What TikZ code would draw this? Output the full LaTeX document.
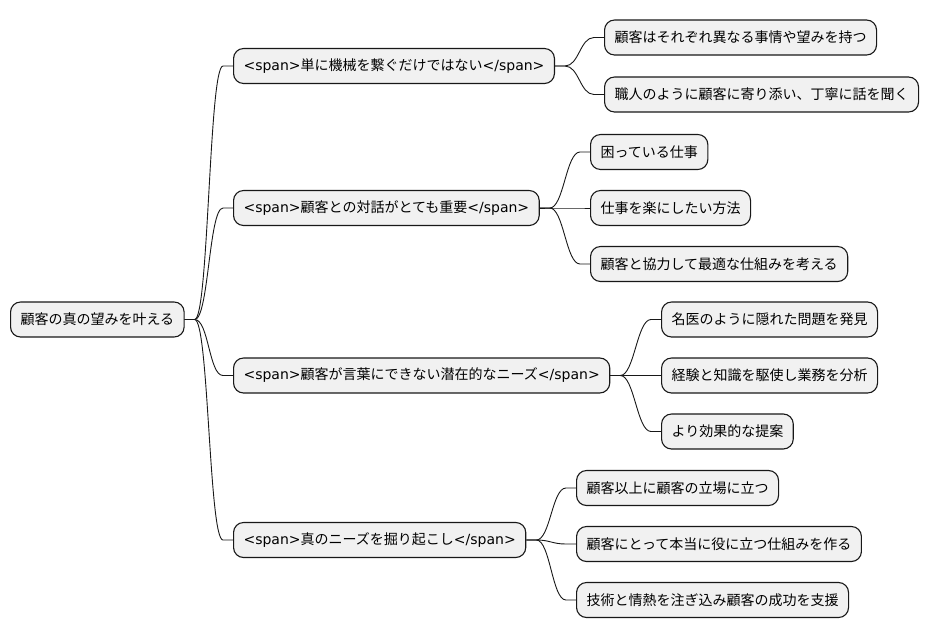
\documentclass[tikz,border=0pt]{standalone}
\usepackage{fontspec}
\setmainfont{Noto Sans CJK JP}
\newfontfamily\latinfont{DejaVu Sans}
\usetikzlibrary{positioning}
\newcommand\spantag[1]{{\latinfont<span>}#1{\latinfont</span>}}
\definecolor{boxfill}{HTML}{F1F1F1}
\definecolor{boxline}{HTML}{181818}
\tikzset{
  topic/.style={draw=boxline, fill=boxfill, rounded corners=10pt, line width=1.1pt,
    minimum height=35pt, inner xsep=10pt, anchor=west,
    font=\fontsize{14}{16}\selectfont},
  branch/.style={to path={-- ++(10pt,0) .. controls +(14pt,0) and +(-14pt,0) .. ([xshift=-10pt]\tikztotarget.west) -- (\tikztotarget.west)}}
}

\begin{document}
\begin{tikzpicture}[x=1pt, y=-1pt]
  \useasboundingbox (0,0) rectangle (929,640);
  % Root
  \node [topic] (root) at (10,319.5) {顧客の真の望みを叶える};

  % First level
  \node [topic] (need1) at (233,66) {\spantag{単に機械を繋ぐだけではない}};
  \node [topic] (need2) at (233,208) {\spantag{顧客との対話がとても重要}};
  \node [topic] (need3) at (233,375.5) {\spantag{顧客が言葉にできない潜在的なニーズ}};
  \node [topic] (need4) at (233,540) {\spantag{真のニーズを掘り起こし}};

  % Second level
  \node [topic] (need1a) at (604,37.5) {顧客はそれぞれ異なる事情や望みを持つ};
  \node [topic] (need1b) at (604,94.5) {職人のように顧客に寄り添い、丁寧に話を聞く};
  \node [topic] (need2a) at (590,152) {困っている仕事};
  \node [topic] (need2b) at (590,208) {仕事を楽にしたい方法};
  \node [topic] (need2c) at (590,264) {顧客と協力して最適な仕組みを考える};
  \node [topic] (need3a) at (661,319.5) {名医のように隠れた問題を発見};
  \node [topic] (need3b) at (661,375.5) {経験と知識を駆使し業務を分析};
  \node [topic] (need3c) at (661,431.5) {より効果的な提案};
  \node [topic] (need4a) at (576,488) {顧客以上に顧客の立場に立つ};
  \node [topic] (need4b) at (576,544) {顧客にとって本当に役に立つ仕組みを作る};
  \node [topic] (need4c) at (576,600) {技術と情熱を注ぎ込み顧客の成功を支援};

  % Branches
  \foreach \kid in {need1,need2,need3,need4}
    \draw [line width=0.9pt, boxline] (root.east) to[branch] (\kid);
  \foreach \kid in {need1a,need1b}
    \draw [line width=0.9pt, boxline] (need1.east) to[branch] (\kid);
  \foreach \kid in {need2a,need2b,need2c}
    \draw [line width=0.9pt, boxline] (need2.east) to[branch] (\kid);
  \foreach \kid in {need3a,need3b,need3c}
    \draw [line width=0.9pt, boxline] (need3.east) to[branch] (\kid);
  \foreach \kid in {need4a,need4b,need4c}
    \draw [line width=0.9pt, boxline] (need4.east) to[branch] (\kid);
\end{tikzpicture}
\end{document}
